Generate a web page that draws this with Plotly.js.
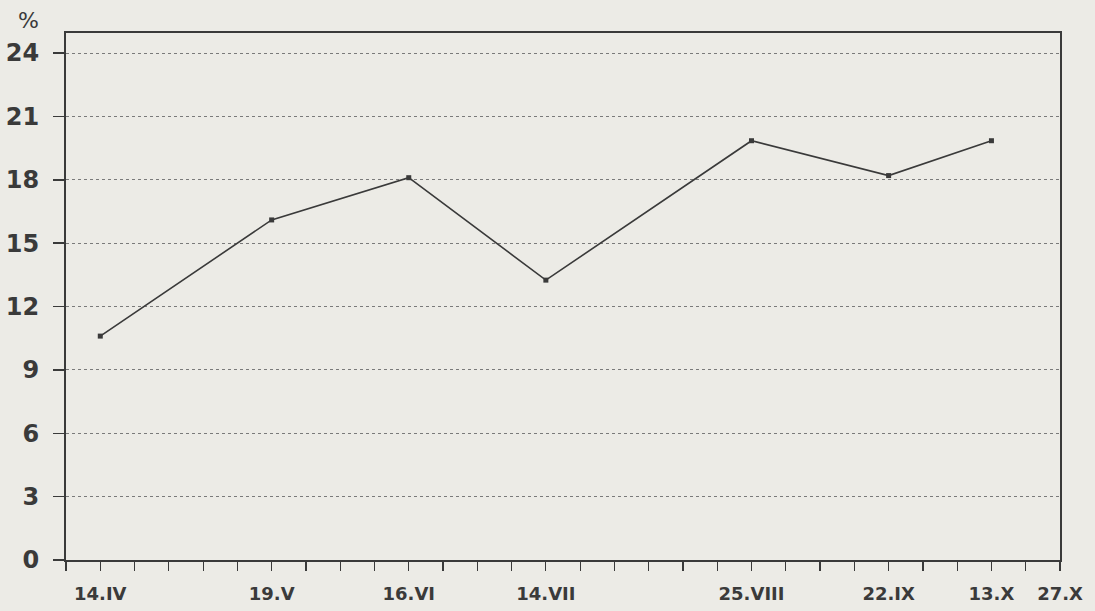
<!DOCTYPE html>
<html><head><meta charset="utf-8">
<script src="https://cdn.plot.ly/plotly-3.0.1.min.js"></script>
<style>html,body{margin:0;padding:0;background:#ecebe6;}</style>
</head><body>
<div id="chart" style="width:1095px;height:611px;"></div>
<script>
const dates = ['1990-04-14','1990-05-19','1990-06-16','1990-07-14','1990-08-25','1990-09-22','1990-10-13'];
const values = [10.6, 16.1, 18.1, 13.25, 19.85, 18.2, 19.85];
const tickDates = ['1990-04-14','1990-05-19','1990-06-16','1990-07-14','1990-08-25','1990-09-22','1990-10-13','1990-10-27'];
const tickLabels = ['14.IV','19.V','16.VI','14.VII','25.VIII','22.IX','13.X','27.X'];
const yTicks = [0,3,6,9,12,15,18,21,24];

const ink = '#3a3a3a';
Plotly.newPlot('chart', [{
  x: dates, y: values, type: 'scatter', mode: 'lines+markers',
  line: {color: ink, width: 1.6},
  marker: {symbol: 'square', size: 5, color: ink},
  hoverinfo: 'skip'
}], {
  width: 1095, height: 611,
  margin: {l: 66, r: 35, t: 33, b: 51},
  paper_bgcolor: '#ecebe6', plot_bgcolor: '#ecebe6',
  showlegend: false,
  font: {family: 'DejaVu Sans', color: ink},
  xaxis: {
    type: 'date', range: ['1990-04-07', '1990-10-27'],
    tickmode: 'array', tickvals: tickDates, ticktext: tickLabels,
    ticks: 'outside', ticklen: 9, tickwidth: 1.2, tickcolor: ink,
    tickfont: {size: 18, color: ink, family: 'DejaVu Sans', weight: 'bold'},
    ticklabelstandoff: 7,
    showgrid: false, zeroline: false,
    showline: true, linecolor: ink, linewidth: 2, mirror: true,
    minor: {dtick: 604800000, tick0: '1990-04-07', ticks: 'outside', ticklen: 9, tickwidth: 1.2, tickcolor: ink, showgrid: false}
  },
  yaxis: {
    range: [0, 24.95], tickmode: 'array', tickvals: yTicks,
    ticks: 'outside', ticklen: 11, tickwidth: 1.5, tickcolor: ink,
    tickfont: {size: 24, color: ink, family: 'DejaVu Sans', weight: 'bold'},
    ticklabelstandoff: 9,
    showgrid: true, gridcolor: '#7a7a7a', gridwidth: 1, griddash: 'dot',
    zeroline: false,
    showline: true, linecolor: ink, linewidth: 2, mirror: true
  },
  annotations: [{
    text: '%', xref: 'paper', yref: 'paper', x: 0, y: 1,
    xanchor: 'center', yanchor: 'middle', xshift: -38, yshift: 13,
    showarrow: false, font: {size: 22, color: ink, family: 'DejaVu Sans'}
  }]
}, {staticPlot: true});
</script>
</body></html>
